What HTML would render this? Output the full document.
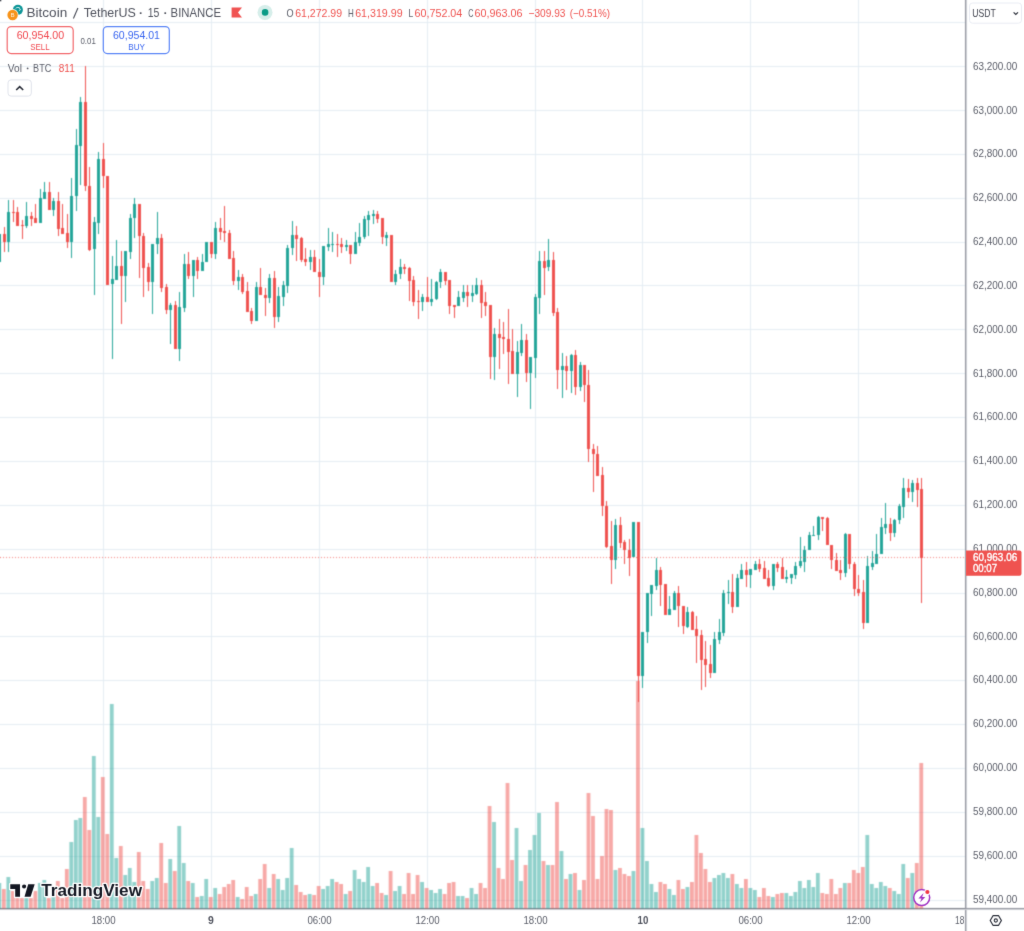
<!DOCTYPE html>
<html><head><meta charset="utf-8"><title>BTCUSDT chart</title>
<style>
html,body{margin:0;padding:0;background:#fff}
body{width:1024px;height:931px;position:relative;overflow:hidden;font-family:"Liberation Sans",sans-serif}
</style></head><body>
<svg width="1024" height="931" viewBox="0 0 1024 931" font-family="Liberation Sans, sans-serif" style="position:absolute;left:0;top:0">
<defs><filter id="soft" x="0" y="0" width="100%" height="100%" filterUnits="userSpaceOnUse" primitiveUnits="userSpaceOnUse" color-interpolation-filters="sRGB"><feConvolveMatrix order="3" kernelMatrix="0.03 0.12 0.03 0.12 0.4 0.12 0.03 0.12 0.03" divisor="1" edgeMode="duplicate" preserveAlpha="true"/></filter></defs>
<defs><filter id="soft2" x="0" y="0" width="100%" height="100%" filterUnits="userSpaceOnUse" primitiveUnits="userSpaceOnUse" color-interpolation-filters="sRGB"><feConvolveMatrix order="3" kernelMatrix="0.01 0.07 0.01 0.07 0.68 0.07 0.01 0.07 0.01" divisor="1" edgeMode="none" preserveAlpha="false"/></filter></defs>
<g filter="url(#soft)">
<rect x="0" y="0" width="1024" height="931" fill="#fff"/>
<g shape-rendering="crispEdges" fill="#e4edf3">
<rect x="0" y="22" width="965" height="1"/>
<rect x="0" y="66" width="965" height="1"/>
<rect x="0" y="110" width="965" height="1"/>
<rect x="0" y="154" width="965" height="1"/>
<rect x="0" y="198" width="965" height="1"/>
<rect x="0" y="242" width="965" height="1"/>
<rect x="0" y="285" width="965" height="1"/>
<rect x="0" y="329" width="965" height="1"/>
<rect x="0" y="373" width="965" height="1"/>
<rect x="0" y="417" width="965" height="1"/>
<rect x="0" y="461" width="965" height="1"/>
<rect x="0" y="505" width="965" height="1"/>
<rect x="0" y="549" width="965" height="1"/>
<rect x="0" y="593" width="965" height="1"/>
<rect x="0" y="636" width="965" height="1"/>
<rect x="0" y="680" width="965" height="1"/>
<rect x="0" y="724" width="965" height="1"/>
<rect x="0" y="768" width="965" height="1"/>
<rect x="0" y="812" width="965" height="1"/>
<rect x="0" y="856" width="965" height="1"/>
<rect x="0" y="900" width="965" height="1"/>
<rect x="103" y="0" width="1" height="908"/>
<rect x="211" y="0" width="1" height="908"/>
<rect x="319" y="0" width="1" height="908"/>
<rect x="427" y="0" width="1" height="908"/>
<rect x="535" y="0" width="1" height="908"/>
<rect x="642" y="0" width="1" height="908"/>
<rect x="750" y="0" width="1" height="908"/>
<rect x="858" y="0" width="1" height="908"/>
<rect x="966" y="0" width="1" height="908"/>
</g>
<rect x="965" y="0" width="1" height="931" fill="#8f929c"/><rect x="966" y="0" width="1" height="931" fill="#cfd1d6"/>
<rect x="0" y="908" width="1024" height="1" fill="#8f929c"/><rect x="0" y="909" width="1024" height="1" fill="#cfd1d6"/>
<g>
<rect x="-2.56" y="883" width="3.8" height="26" fill="rgba(38,166,154,0.5)"/>
<rect x="1.94" y="889" width="3.8" height="20" fill="rgba(239,83,80,0.5)"/>
<rect x="6.44" y="877" width="3.8" height="32" fill="rgba(38,166,154,0.5)"/>
<rect x="10.94" y="891" width="3.8" height="18" fill="rgba(239,83,80,0.5)"/>
<rect x="15.43" y="898" width="3.8" height="11" fill="rgba(239,83,80,0.5)"/>
<rect x="19.93" y="898" width="3.8" height="11" fill="rgba(239,83,80,0.5)"/>
<rect x="24.43" y="898" width="3.8" height="11" fill="rgba(38,166,154,0.5)"/>
<rect x="28.92" y="898" width="3.8" height="11" fill="rgba(239,83,80,0.5)"/>
<rect x="33.42" y="891" width="3.8" height="18" fill="rgba(239,83,80,0.5)"/>
<rect x="37.92" y="883" width="3.8" height="26" fill="rgba(38,166,154,0.5)"/>
<rect x="42.42" y="880" width="3.8" height="29" fill="rgba(38,166,154,0.5)"/>
<rect x="46.91" y="898" width="3.8" height="11" fill="rgba(239,83,80,0.5)"/>
<rect x="51.41" y="896" width="3.8" height="13" fill="rgba(38,166,154,0.5)"/>
<rect x="55.91" y="881" width="3.8" height="28" fill="rgba(239,83,80,0.5)"/>
<rect x="60.41" y="898" width="3.8" height="11" fill="rgba(239,83,80,0.5)"/>
<rect x="64.90" y="869" width="3.8" height="40" fill="rgba(239,83,80,0.5)"/>
<rect x="69.40" y="842" width="3.8" height="67" fill="rgba(38,166,154,0.5)"/>
<rect x="73.90" y="820" width="3.8" height="89" fill="rgba(38,166,154,0.5)"/>
<rect x="78.39" y="818" width="3.8" height="91" fill="rgba(38,166,154,0.5)"/>
<rect x="82.89" y="797" width="3.8" height="112" fill="rgba(239,83,80,0.5)"/>
<rect x="87.39" y="830" width="3.8" height="79" fill="rgba(239,83,80,0.5)"/>
<rect x="91.89" y="756" width="3.8" height="153" fill="rgba(38,166,154,0.5)"/>
<rect x="96.38" y="817" width="3.8" height="92" fill="rgba(38,166,154,0.5)"/>
<rect x="100.88" y="777" width="3.8" height="132" fill="rgba(239,83,80,0.5)"/>
<rect x="105.38" y="834" width="3.8" height="75" fill="rgba(239,83,80,0.5)"/>
<rect x="109.87" y="704" width="3.8" height="205" fill="rgba(38,166,154,0.5)"/>
<rect x="114.37" y="858" width="3.8" height="51" fill="rgba(38,166,154,0.5)"/>
<rect x="118.87" y="846" width="3.8" height="63" fill="rgba(239,83,80,0.5)"/>
<rect x="123.37" y="875" width="3.8" height="34" fill="rgba(38,166,154,0.5)"/>
<rect x="127.86" y="868" width="3.8" height="41" fill="rgba(38,166,154,0.5)"/>
<rect x="132.36" y="882" width="3.8" height="27" fill="rgba(38,166,154,0.5)"/>
<rect x="136.86" y="852" width="3.8" height="57" fill="rgba(239,83,80,0.5)"/>
<rect x="141.35" y="881" width="3.8" height="28" fill="rgba(239,83,80,0.5)"/>
<rect x="145.85" y="889" width="3.8" height="20" fill="rgba(239,83,80,0.5)"/>
<rect x="150.35" y="881" width="3.8" height="28" fill="rgba(38,166,154,0.5)"/>
<rect x="154.85" y="878" width="3.8" height="31" fill="rgba(38,166,154,0.5)"/>
<rect x="159.34" y="843" width="3.8" height="66" fill="rgba(239,83,80,0.5)"/>
<rect x="163.84" y="883" width="3.8" height="26" fill="rgba(239,83,80,0.5)"/>
<rect x="168.34" y="859" width="3.8" height="50" fill="rgba(38,166,154,0.5)"/>
<rect x="172.84" y="871" width="3.8" height="38" fill="rgba(239,83,80,0.5)"/>
<rect x="177.33" y="826" width="3.8" height="83" fill="rgba(38,166,154,0.5)"/>
<rect x="181.83" y="863" width="3.8" height="46" fill="rgba(38,166,154,0.5)"/>
<rect x="186.33" y="881" width="3.8" height="28" fill="rgba(239,83,80,0.5)"/>
<rect x="190.82" y="883" width="3.8" height="26" fill="rgba(38,166,154,0.5)"/>
<rect x="195.32" y="897" width="3.8" height="12" fill="rgba(239,83,80,0.5)"/>
<rect x="199.82" y="896" width="3.8" height="13" fill="rgba(38,166,154,0.5)"/>
<rect x="204.32" y="879" width="3.8" height="30" fill="rgba(38,166,154,0.5)"/>
<rect x="208.81" y="897" width="3.8" height="12" fill="rgba(239,83,80,0.5)"/>
<rect x="213.31" y="888" width="3.8" height="21" fill="rgba(38,166,154,0.5)"/>
<rect x="217.81" y="894" width="3.8" height="15" fill="rgba(239,83,80,0.5)"/>
<rect x="222.30" y="887" width="3.8" height="22" fill="rgba(239,83,80,0.5)"/>
<rect x="226.80" y="884" width="3.8" height="25" fill="rgba(239,83,80,0.5)"/>
<rect x="231.30" y="880" width="3.8" height="29" fill="rgba(239,83,80,0.5)"/>
<rect x="235.80" y="897" width="3.8" height="12" fill="rgba(38,166,154,0.5)"/>
<rect x="240.29" y="899" width="3.8" height="10" fill="rgba(239,83,80,0.5)"/>
<rect x="244.79" y="887" width="3.8" height="22" fill="rgba(239,83,80,0.5)"/>
<rect x="249.29" y="896" width="3.8" height="13" fill="rgba(239,83,80,0.5)"/>
<rect x="253.78" y="894" width="3.8" height="15" fill="rgba(38,166,154,0.5)"/>
<rect x="258.28" y="879" width="3.8" height="30" fill="rgba(239,83,80,0.5)"/>
<rect x="262.78" y="864" width="3.8" height="45" fill="rgba(239,83,80,0.5)"/>
<rect x="267.28" y="888" width="3.8" height="21" fill="rgba(38,166,154,0.5)"/>
<rect x="271.77" y="874" width="3.8" height="35" fill="rgba(239,83,80,0.5)"/>
<rect x="276.27" y="879" width="3.8" height="30" fill="rgba(38,166,154,0.5)"/>
<rect x="280.77" y="890" width="3.8" height="19" fill="rgba(38,166,154,0.5)"/>
<rect x="285.27" y="878" width="3.8" height="31" fill="rgba(38,166,154,0.5)"/>
<rect x="289.76" y="848" width="3.8" height="61" fill="rgba(38,166,154,0.5)"/>
<rect x="294.26" y="885" width="3.8" height="24" fill="rgba(239,83,80,0.5)"/>
<rect x="298.76" y="892" width="3.8" height="17" fill="rgba(239,83,80,0.5)"/>
<rect x="303.25" y="895" width="3.8" height="14" fill="rgba(239,83,80,0.5)"/>
<rect x="307.75" y="894" width="3.8" height="15" fill="rgba(38,166,154,0.5)"/>
<rect x="312.25" y="895" width="3.8" height="14" fill="rgba(239,83,80,0.5)"/>
<rect x="316.75" y="886" width="3.8" height="23" fill="rgba(239,83,80,0.5)"/>
<rect x="321.24" y="889" width="3.8" height="20" fill="rgba(38,166,154,0.5)"/>
<rect x="325.74" y="886" width="3.8" height="23" fill="rgba(38,166,154,0.5)"/>
<rect x="330.24" y="879" width="3.8" height="30" fill="rgba(38,166,154,0.5)"/>
<rect x="334.73" y="882" width="3.8" height="27" fill="rgba(239,83,80,0.5)"/>
<rect x="339.23" y="884" width="3.8" height="25" fill="rgba(239,83,80,0.5)"/>
<rect x="343.73" y="894" width="3.8" height="15" fill="rgba(38,166,154,0.5)"/>
<rect x="348.23" y="891" width="3.8" height="18" fill="rgba(239,83,80,0.5)"/>
<rect x="352.72" y="870" width="3.8" height="39" fill="rgba(38,166,154,0.5)"/>
<rect x="357.22" y="879" width="3.8" height="30" fill="rgba(38,166,154,0.5)"/>
<rect x="361.72" y="882" width="3.8" height="27" fill="rgba(38,166,154,0.5)"/>
<rect x="366.21" y="867" width="3.8" height="42" fill="rgba(38,166,154,0.5)"/>
<rect x="370.71" y="886" width="3.8" height="23" fill="rgba(38,166,154,0.5)"/>
<rect x="375.21" y="883" width="3.8" height="26" fill="rgba(239,83,80,0.5)"/>
<rect x="379.71" y="893" width="3.8" height="16" fill="rgba(239,83,80,0.5)"/>
<rect x="384.20" y="895" width="3.8" height="14" fill="rgba(38,166,154,0.5)"/>
<rect x="388.70" y="871" width="3.8" height="38" fill="rgba(239,83,80,0.5)"/>
<rect x="393.20" y="891" width="3.8" height="18" fill="rgba(38,166,154,0.5)"/>
<rect x="397.70" y="886" width="3.8" height="23" fill="rgba(38,166,154,0.5)"/>
<rect x="402.19" y="894" width="3.8" height="15" fill="rgba(239,83,80,0.5)"/>
<rect x="406.69" y="873" width="3.8" height="36" fill="rgba(239,83,80,0.5)"/>
<rect x="411.19" y="894" width="3.8" height="15" fill="rgba(239,83,80,0.5)"/>
<rect x="415.68" y="875" width="3.8" height="34" fill="rgba(239,83,80,0.5)"/>
<rect x="420.18" y="882" width="3.8" height="27" fill="rgba(38,166,154,0.5)"/>
<rect x="424.68" y="888" width="3.8" height="21" fill="rgba(239,83,80,0.5)"/>
<rect x="429.18" y="890" width="3.8" height="19" fill="rgba(38,166,154,0.5)"/>
<rect x="433.67" y="893" width="3.8" height="16" fill="rgba(38,166,154,0.5)"/>
<rect x="438.17" y="889" width="3.8" height="20" fill="rgba(38,166,154,0.5)"/>
<rect x="442.67" y="894" width="3.8" height="15" fill="rgba(239,83,80,0.5)"/>
<rect x="447.16" y="883" width="3.8" height="26" fill="rgba(239,83,80,0.5)"/>
<rect x="451.66" y="882" width="3.8" height="27" fill="rgba(239,83,80,0.5)"/>
<rect x="456.16" y="896" width="3.8" height="13" fill="rgba(38,166,154,0.5)"/>
<rect x="460.66" y="896" width="3.8" height="13" fill="rgba(38,166,154,0.5)"/>
<rect x="465.15" y="898" width="3.8" height="11" fill="rgba(239,83,80,0.5)"/>
<rect x="469.65" y="888" width="3.8" height="21" fill="rgba(38,166,154,0.5)"/>
<rect x="474.15" y="894" width="3.8" height="15" fill="rgba(38,166,154,0.5)"/>
<rect x="478.64" y="883" width="3.8" height="26" fill="rgba(239,83,80,0.5)"/>
<rect x="483.14" y="888" width="3.8" height="21" fill="rgba(239,83,80,0.5)"/>
<rect x="487.64" y="806" width="3.8" height="103" fill="rgba(239,83,80,0.5)"/>
<rect x="492.14" y="822" width="3.8" height="87" fill="rgba(38,166,154,0.5)"/>
<rect x="496.63" y="868" width="3.8" height="41" fill="rgba(239,83,80,0.5)"/>
<rect x="501.13" y="879" width="3.8" height="30" fill="rgba(239,83,80,0.5)"/>
<rect x="505.63" y="783" width="3.8" height="126" fill="rgba(239,83,80,0.5)"/>
<rect x="510.13" y="860" width="3.8" height="49" fill="rgba(239,83,80,0.5)"/>
<rect x="514.62" y="828" width="3.8" height="81" fill="rgba(38,166,154,0.5)"/>
<rect x="519.12" y="881" width="3.8" height="28" fill="rgba(38,166,154,0.5)"/>
<rect x="523.62" y="865" width="3.8" height="44" fill="rgba(239,83,80,0.5)"/>
<rect x="528.11" y="850" width="3.8" height="59" fill="rgba(38,166,154,0.5)"/>
<rect x="532.61" y="835" width="3.8" height="74" fill="rgba(38,166,154,0.5)"/>
<rect x="537.11" y="813" width="3.8" height="96" fill="rgba(38,166,154,0.5)"/>
<rect x="541.61" y="861" width="3.8" height="48" fill="rgba(239,83,80,0.5)"/>
<rect x="546.10" y="865" width="3.8" height="44" fill="rgba(38,166,154,0.5)"/>
<rect x="550.60" y="865" width="3.8" height="44" fill="rgba(239,83,80,0.5)"/>
<rect x="555.10" y="802" width="3.8" height="107" fill="rgba(239,83,80,0.5)"/>
<rect x="559.59" y="851" width="3.8" height="58" fill="rgba(38,166,154,0.5)"/>
<rect x="564.09" y="879" width="3.8" height="30" fill="rgba(239,83,80,0.5)"/>
<rect x="568.59" y="874" width="3.8" height="35" fill="rgba(38,166,154,0.5)"/>
<rect x="573.09" y="873" width="3.8" height="36" fill="rgba(239,83,80,0.5)"/>
<rect x="577.58" y="890" width="3.8" height="19" fill="rgba(38,166,154,0.5)"/>
<rect x="582.08" y="880" width="3.8" height="29" fill="rgba(239,83,80,0.5)"/>
<rect x="586.58" y="793" width="3.8" height="116" fill="rgba(239,83,80,0.5)"/>
<rect x="591.07" y="816" width="3.8" height="93" fill="rgba(239,83,80,0.5)"/>
<rect x="595.57" y="879" width="3.8" height="30" fill="rgba(239,83,80,0.5)"/>
<rect x="600.07" y="856" width="3.8" height="53" fill="rgba(239,83,80,0.5)"/>
<rect x="604.57" y="809" width="3.8" height="100" fill="rgba(239,83,80,0.5)"/>
<rect x="609.06" y="810" width="3.8" height="99" fill="rgba(239,83,80,0.5)"/>
<rect x="613.56" y="870" width="3.8" height="39" fill="rgba(38,166,154,0.5)"/>
<rect x="618.06" y="868" width="3.8" height="41" fill="rgba(239,83,80,0.5)"/>
<rect x="622.56" y="874" width="3.8" height="35" fill="rgba(239,83,80,0.5)"/>
<rect x="627.05" y="876" width="3.8" height="33" fill="rgba(239,83,80,0.5)"/>
<rect x="631.55" y="871" width="3.8" height="38" fill="rgba(38,166,154,0.5)"/>
<rect x="636.05" y="681" width="3.8" height="228" fill="rgba(239,83,80,0.5)"/>
<rect x="640.54" y="828" width="3.8" height="81" fill="rgba(38,166,154,0.5)"/>
<rect x="645.04" y="861" width="3.8" height="48" fill="rgba(38,166,154,0.5)"/>
<rect x="649.54" y="884" width="3.8" height="25" fill="rgba(38,166,154,0.5)"/>
<rect x="654.04" y="892" width="3.8" height="17" fill="rgba(38,166,154,0.5)"/>
<rect x="658.53" y="882" width="3.8" height="27" fill="rgba(239,83,80,0.5)"/>
<rect x="663.03" y="884" width="3.8" height="25" fill="rgba(239,83,80,0.5)"/>
<rect x="667.53" y="889" width="3.8" height="20" fill="rgba(38,166,154,0.5)"/>
<rect x="672.02" y="895" width="3.8" height="14" fill="rgba(38,166,154,0.5)"/>
<rect x="676.52" y="880" width="3.8" height="29" fill="rgba(239,83,80,0.5)"/>
<rect x="681.02" y="889" width="3.8" height="20" fill="rgba(239,83,80,0.5)"/>
<rect x="685.52" y="887" width="3.8" height="22" fill="rgba(38,166,154,0.5)"/>
<rect x="690.01" y="882" width="3.8" height="27" fill="rgba(239,83,80,0.5)"/>
<rect x="694.51" y="835" width="3.8" height="74" fill="rgba(239,83,80,0.5)"/>
<rect x="699.01" y="853" width="3.8" height="56" fill="rgba(239,83,80,0.5)"/>
<rect x="703.50" y="869" width="3.8" height="40" fill="rgba(239,83,80,0.5)"/>
<rect x="708.00" y="882" width="3.8" height="27" fill="rgba(239,83,80,0.5)"/>
<rect x="712.50" y="878" width="3.8" height="31" fill="rgba(38,166,154,0.5)"/>
<rect x="717.00" y="875" width="3.8" height="34" fill="rgba(38,166,154,0.5)"/>
<rect x="721.49" y="873" width="3.8" height="36" fill="rgba(38,166,154,0.5)"/>
<rect x="725.99" y="878" width="3.8" height="31" fill="rgba(38,166,154,0.5)"/>
<rect x="730.49" y="874" width="3.8" height="35" fill="rgba(239,83,80,0.5)"/>
<rect x="734.99" y="884" width="3.8" height="25" fill="rgba(38,166,154,0.5)"/>
<rect x="739.48" y="888" width="3.8" height="21" fill="rgba(38,166,154,0.5)"/>
<rect x="743.98" y="879" width="3.8" height="30" fill="rgba(239,83,80,0.5)"/>
<rect x="748.48" y="888" width="3.8" height="21" fill="rgba(38,166,154,0.5)"/>
<rect x="752.97" y="890" width="3.8" height="19" fill="rgba(38,166,154,0.5)"/>
<rect x="757.47" y="897" width="3.8" height="12" fill="rgba(239,83,80,0.5)"/>
<rect x="761.97" y="888" width="3.8" height="21" fill="rgba(239,83,80,0.5)"/>
<rect x="766.47" y="896" width="3.8" height="13" fill="rgba(239,83,80,0.5)"/>
<rect x="770.96" y="897" width="3.8" height="12" fill="rgba(38,166,154,0.5)"/>
<rect x="775.46" y="894" width="3.8" height="15" fill="rgba(239,83,80,0.5)"/>
<rect x="779.96" y="893" width="3.8" height="16" fill="rgba(239,83,80,0.5)"/>
<rect x="784.45" y="893" width="3.8" height="16" fill="rgba(38,166,154,0.5)"/>
<rect x="788.95" y="896" width="3.8" height="13" fill="rgba(38,166,154,0.5)"/>
<rect x="793.45" y="892" width="3.8" height="17" fill="rgba(38,166,154,0.5)"/>
<rect x="797.95" y="881" width="3.8" height="28" fill="rgba(38,166,154,0.5)"/>
<rect x="802.44" y="888" width="3.8" height="21" fill="rgba(38,166,154,0.5)"/>
<rect x="806.94" y="880" width="3.8" height="29" fill="rgba(38,166,154,0.5)"/>
<rect x="811.44" y="887" width="3.8" height="22" fill="rgba(38,166,154,0.5)"/>
<rect x="815.93" y="873" width="3.8" height="36" fill="rgba(38,166,154,0.5)"/>
<rect x="820.43" y="893" width="3.8" height="16" fill="rgba(239,83,80,0.5)"/>
<rect x="824.93" y="894" width="3.8" height="15" fill="rgba(239,83,80,0.5)"/>
<rect x="829.43" y="879" width="3.8" height="30" fill="rgba(239,83,80,0.5)"/>
<rect x="833.92" y="894" width="3.8" height="15" fill="rgba(239,83,80,0.5)"/>
<rect x="838.42" y="888" width="3.8" height="21" fill="rgba(239,83,80,0.5)"/>
<rect x="842.92" y="883" width="3.8" height="26" fill="rgba(38,166,154,0.5)"/>
<rect x="847.42" y="883" width="3.8" height="26" fill="rgba(239,83,80,0.5)"/>
<rect x="851.91" y="870" width="3.8" height="39" fill="rgba(239,83,80,0.5)"/>
<rect x="856.41" y="873" width="3.8" height="36" fill="rgba(239,83,80,0.5)"/>
<rect x="860.91" y="867" width="3.8" height="42" fill="rgba(239,83,80,0.5)"/>
<rect x="865.40" y="835" width="3.8" height="74" fill="rgba(38,166,154,0.5)"/>
<rect x="869.90" y="884" width="3.8" height="25" fill="rgba(38,166,154,0.5)"/>
<rect x="874.40" y="888" width="3.8" height="21" fill="rgba(38,166,154,0.5)"/>
<rect x="878.90" y="882" width="3.8" height="27" fill="rgba(38,166,154,0.5)"/>
<rect x="883.39" y="886" width="3.8" height="23" fill="rgba(38,166,154,0.5)"/>
<rect x="887.89" y="888" width="3.8" height="21" fill="rgba(239,83,80,0.5)"/>
<rect x="892.39" y="891" width="3.8" height="18" fill="rgba(38,166,154,0.5)"/>
<rect x="896.88" y="894" width="3.8" height="15" fill="rgba(38,166,154,0.5)"/>
<rect x="901.38" y="864" width="3.8" height="45" fill="rgba(38,166,154,0.5)"/>
<rect x="905.88" y="878" width="3.8" height="31" fill="rgba(239,83,80,0.5)"/>
<rect x="910.38" y="873" width="3.8" height="36" fill="rgba(38,166,154,0.5)"/>
<rect x="914.87" y="863" width="3.8" height="46" fill="rgba(239,83,80,0.5)"/>
<rect x="919.37" y="763" width="3.8" height="146" fill="rgba(239,83,80,0.5)"/>
</g>
<rect x="0" y="908" width="965" height="1" fill="#6d707a" opacity="0.55"/>
<g shape-rendering="crispEdges">
<rect x="-1" y="234" width="1" height="28" fill="#26a69a"/>
<rect x="-2" y="234" width="3" height="28" fill="#26a69a"/>
<rect x="4" y="227" width="1" height="25" fill="#ef5350"/>
<rect x="3" y="234" width="3" height="8" fill="#ef5350"/>
<rect x="8" y="200" width="1" height="52" fill="#26a69a"/>
<rect x="7" y="212" width="3" height="30" fill="#26a69a"/>
<rect x="13" y="200" width="1" height="22" fill="#ef5350"/>
<rect x="12" y="212" width="3" height="1" fill="#ef5350"/>
<rect x="17" y="207" width="1" height="19" fill="#ef5350"/>
<rect x="16" y="212" width="3" height="14" fill="#ef5350"/>
<rect x="22" y="220" width="1" height="19" fill="#ef5350"/>
<rect x="21" y="225" width="3" height="1" fill="#ef5350"/>
<rect x="26" y="202" width="1" height="26" fill="#26a69a"/>
<rect x="25" y="216" width="3" height="10" fill="#26a69a"/>
<rect x="31" y="212" width="1" height="14" fill="#ef5350"/>
<rect x="30" y="216" width="3" height="3" fill="#ef5350"/>
<rect x="35" y="204" width="1" height="19" fill="#ef5350"/>
<rect x="34" y="218" width="3" height="5" fill="#ef5350"/>
<rect x="40" y="189" width="1" height="34" fill="#26a69a"/>
<rect x="39" y="198" width="3" height="25" fill="#26a69a"/>
<rect x="44" y="182" width="1" height="17" fill="#26a69a"/>
<rect x="43" y="192" width="3" height="7" fill="#26a69a"/>
<rect x="49" y="182" width="1" height="28" fill="#ef5350"/>
<rect x="48" y="192" width="3" height="18" fill="#ef5350"/>
<rect x="53" y="198" width="1" height="18" fill="#26a69a"/>
<rect x="52" y="201" width="3" height="9" fill="#26a69a"/>
<rect x="58" y="192" width="1" height="44" fill="#ef5350"/>
<rect x="57" y="201" width="3" height="28" fill="#ef5350"/>
<rect x="62" y="204" width="1" height="30" fill="#ef5350"/>
<rect x="61" y="228" width="3" height="6" fill="#ef5350"/>
<rect x="67" y="214" width="1" height="34" fill="#ef5350"/>
<rect x="66" y="233" width="3" height="9" fill="#ef5350"/>
<rect x="71" y="178" width="1" height="80" fill="#26a69a"/>
<rect x="70" y="196" width="3" height="46" fill="#26a69a"/>
<rect x="76" y="129" width="1" height="82" fill="#26a69a"/>
<rect x="75" y="145" width="3" height="51" fill="#26a69a"/>
<rect x="80" y="97" width="1" height="88" fill="#26a69a"/>
<rect x="79" y="102" width="3" height="44" fill="#26a69a"/>
<rect x="85" y="66" width="1" height="125" fill="#ef5350"/>
<rect x="84" y="102" width="3" height="84" fill="#ef5350"/>
<rect x="89" y="167" width="1" height="84" fill="#ef5350"/>
<rect x="88" y="186" width="3" height="64" fill="#ef5350"/>
<rect x="94" y="217" width="1" height="78" fill="#26a69a"/>
<rect x="93" y="222" width="3" height="27" fill="#26a69a"/>
<rect x="98" y="152" width="1" height="82" fill="#26a69a"/>
<rect x="97" y="159" width="3" height="64" fill="#26a69a"/>
<rect x="103" y="143" width="1" height="45" fill="#ef5350"/>
<rect x="102" y="159" width="3" height="17" fill="#ef5350"/>
<rect x="107" y="176" width="1" height="109" fill="#ef5350"/>
<rect x="106" y="176" width="3" height="109" fill="#ef5350"/>
<rect x="112" y="256" width="1" height="103" fill="#26a69a"/>
<rect x="111" y="279" width="3" height="5" fill="#26a69a"/>
<rect x="116" y="240" width="1" height="40" fill="#26a69a"/>
<rect x="115" y="266" width="3" height="14" fill="#26a69a"/>
<rect x="121" y="251" width="1" height="73" fill="#ef5350"/>
<rect x="120" y="266" width="3" height="10" fill="#ef5350"/>
<rect x="125" y="251" width="1" height="51" fill="#26a69a"/>
<rect x="124" y="251" width="3" height="25" fill="#26a69a"/>
<rect x="130" y="214" width="1" height="45" fill="#26a69a"/>
<rect x="129" y="218" width="3" height="34" fill="#26a69a"/>
<rect x="134" y="198" width="1" height="40" fill="#26a69a"/>
<rect x="133" y="204" width="3" height="14" fill="#26a69a"/>
<rect x="139" y="204" width="1" height="74" fill="#ef5350"/>
<rect x="138" y="204" width="3" height="32" fill="#ef5350"/>
<rect x="143" y="233" width="1" height="64" fill="#ef5350"/>
<rect x="142" y="236" width="3" height="32" fill="#ef5350"/>
<rect x="148" y="263" width="1" height="28" fill="#ef5350"/>
<rect x="147" y="267" width="3" height="15" fill="#ef5350"/>
<rect x="152" y="244" width="1" height="70" fill="#26a69a"/>
<rect x="151" y="244" width="3" height="38" fill="#26a69a"/>
<rect x="157" y="212" width="1" height="42" fill="#26a69a"/>
<rect x="156" y="238" width="3" height="6" fill="#26a69a"/>
<rect x="161" y="234" width="1" height="58" fill="#ef5350"/>
<rect x="160" y="238" width="3" height="50" fill="#ef5350"/>
<rect x="166" y="284" width="1" height="30" fill="#ef5350"/>
<rect x="165" y="287" width="3" height="23" fill="#ef5350"/>
<rect x="170" y="303" width="1" height="41" fill="#26a69a"/>
<rect x="169" y="305" width="3" height="5" fill="#26a69a"/>
<rect x="175" y="301" width="1" height="48" fill="#ef5350"/>
<rect x="174" y="305" width="3" height="44" fill="#ef5350"/>
<rect x="179" y="292" width="1" height="69" fill="#26a69a"/>
<rect x="178" y="307" width="3" height="42" fill="#26a69a"/>
<rect x="184" y="254" width="1" height="58" fill="#26a69a"/>
<rect x="183" y="264" width="3" height="44" fill="#26a69a"/>
<rect x="188" y="252" width="1" height="27" fill="#ef5350"/>
<rect x="187" y="264" width="3" height="12" fill="#ef5350"/>
<rect x="193" y="260" width="1" height="37" fill="#26a69a"/>
<rect x="192" y="260" width="3" height="16" fill="#26a69a"/>
<rect x="197" y="257" width="1" height="22" fill="#ef5350"/>
<rect x="196" y="260" width="3" height="11" fill="#ef5350"/>
<rect x="202" y="254" width="1" height="17" fill="#26a69a"/>
<rect x="201" y="262" width="3" height="9" fill="#26a69a"/>
<rect x="206" y="242" width="1" height="20" fill="#26a69a"/>
<rect x="205" y="242" width="3" height="20" fill="#26a69a"/>
<rect x="211" y="242" width="1" height="16" fill="#ef5350"/>
<rect x="210" y="242" width="3" height="12" fill="#ef5350"/>
<rect x="215" y="222" width="1" height="37" fill="#26a69a"/>
<rect x="214" y="228" width="3" height="26" fill="#26a69a"/>
<rect x="220" y="218" width="1" height="22" fill="#ef5350"/>
<rect x="219" y="228" width="3" height="4" fill="#ef5350"/>
<rect x="224" y="206" width="1" height="36" fill="#ef5350"/>
<rect x="223" y="231" width="3" height="2" fill="#ef5350"/>
<rect x="229" y="230" width="1" height="29" fill="#ef5350"/>
<rect x="228" y="233" width="3" height="26" fill="#ef5350"/>
<rect x="233" y="251" width="1" height="34" fill="#ef5350"/>
<rect x="232" y="258" width="3" height="23" fill="#ef5350"/>
<rect x="238" y="270" width="1" height="20" fill="#26a69a"/>
<rect x="237" y="277" width="3" height="4" fill="#26a69a"/>
<rect x="242" y="274" width="1" height="20" fill="#ef5350"/>
<rect x="241" y="277" width="3" height="15" fill="#ef5350"/>
<rect x="247" y="282" width="1" height="30" fill="#ef5350"/>
<rect x="246" y="291" width="3" height="21" fill="#ef5350"/>
<rect x="251" y="308" width="1" height="16" fill="#ef5350"/>
<rect x="250" y="311" width="3" height="10" fill="#ef5350"/>
<rect x="256" y="282" width="1" height="39" fill="#26a69a"/>
<rect x="255" y="287" width="3" height="34" fill="#26a69a"/>
<rect x="260" y="268" width="1" height="27" fill="#ef5350"/>
<rect x="259" y="287" width="3" height="8" fill="#ef5350"/>
<rect x="265" y="288" width="1" height="28" fill="#ef5350"/>
<rect x="264" y="295" width="3" height="3" fill="#ef5350"/>
<rect x="269" y="274" width="1" height="29" fill="#26a69a"/>
<rect x="268" y="278" width="3" height="20" fill="#26a69a"/>
<rect x="274" y="271" width="1" height="57" fill="#ef5350"/>
<rect x="273" y="278" width="3" height="39" fill="#ef5350"/>
<rect x="278" y="287" width="1" height="35" fill="#26a69a"/>
<rect x="277" y="296" width="3" height="21" fill="#26a69a"/>
<rect x="283" y="281" width="1" height="25" fill="#26a69a"/>
<rect x="282" y="285" width="3" height="12" fill="#26a69a"/>
<rect x="287" y="245" width="1" height="48" fill="#26a69a"/>
<rect x="286" y="248" width="3" height="38" fill="#26a69a"/>
<rect x="292" y="221" width="1" height="34" fill="#26a69a"/>
<rect x="291" y="235" width="3" height="13" fill="#26a69a"/>
<rect x="296" y="226" width="1" height="35" fill="#ef5350"/>
<rect x="295" y="235" width="3" height="4" fill="#ef5350"/>
<rect x="301" y="237" width="1" height="25" fill="#ef5350"/>
<rect x="300" y="238" width="3" height="22" fill="#ef5350"/>
<rect x="305" y="248" width="1" height="18" fill="#ef5350"/>
<rect x="304" y="259" width="3" height="3" fill="#ef5350"/>
<rect x="310" y="250" width="1" height="20" fill="#26a69a"/>
<rect x="309" y="257" width="3" height="5" fill="#26a69a"/>
<rect x="314" y="250" width="1" height="22" fill="#ef5350"/>
<rect x="313" y="257" width="3" height="15" fill="#ef5350"/>
<rect x="319" y="259" width="1" height="38" fill="#ef5350"/>
<rect x="318" y="272" width="3" height="5" fill="#ef5350"/>
<rect x="323" y="246" width="1" height="39" fill="#26a69a"/>
<rect x="322" y="246" width="3" height="31" fill="#26a69a"/>
<rect x="328" y="228" width="1" height="23" fill="#26a69a"/>
<rect x="327" y="244" width="3" height="3" fill="#26a69a"/>
<rect x="332" y="232" width="1" height="20" fill="#26a69a"/>
<rect x="331" y="244" width="3" height="1" fill="#26a69a"/>
<rect x="337" y="234" width="1" height="23" fill="#ef5350"/>
<rect x="336" y="244" width="3" height="1" fill="#ef5350"/>
<rect x="341" y="238" width="1" height="15" fill="#ef5350"/>
<rect x="340" y="244" width="3" height="3" fill="#ef5350"/>
<rect x="346" y="240" width="1" height="11" fill="#26a69a"/>
<rect x="345" y="245" width="3" height="2" fill="#26a69a"/>
<rect x="350" y="245" width="1" height="19" fill="#ef5350"/>
<rect x="349" y="245" width="3" height="9" fill="#ef5350"/>
<rect x="355" y="232" width="1" height="22" fill="#26a69a"/>
<rect x="354" y="242" width="3" height="12" fill="#26a69a"/>
<rect x="359" y="223" width="1" height="23" fill="#26a69a"/>
<rect x="358" y="237" width="3" height="6" fill="#26a69a"/>
<rect x="364" y="216" width="1" height="23" fill="#26a69a"/>
<rect x="363" y="219" width="3" height="18" fill="#26a69a"/>
<rect x="368" y="211" width="1" height="25" fill="#26a69a"/>
<rect x="367" y="215" width="3" height="5" fill="#26a69a"/>
<rect x="373" y="210" width="1" height="14" fill="#26a69a"/>
<rect x="372" y="214" width="3" height="2" fill="#26a69a"/>
<rect x="377" y="211" width="1" height="12" fill="#ef5350"/>
<rect x="376" y="214" width="3" height="5" fill="#ef5350"/>
<rect x="382" y="218" width="1" height="26" fill="#ef5350"/>
<rect x="381" y="218" width="3" height="19" fill="#ef5350"/>
<rect x="386" y="232" width="1" height="14" fill="#26a69a"/>
<rect x="385" y="235" width="3" height="3" fill="#26a69a"/>
<rect x="391" y="235" width="1" height="47" fill="#ef5350"/>
<rect x="390" y="235" width="3" height="47" fill="#ef5350"/>
<rect x="395" y="270" width="1" height="15" fill="#26a69a"/>
<rect x="394" y="274" width="3" height="8" fill="#26a69a"/>
<rect x="400" y="259" width="1" height="20" fill="#26a69a"/>
<rect x="399" y="267" width="3" height="7" fill="#26a69a"/>
<rect x="404" y="264" width="1" height="10" fill="#ef5350"/>
<rect x="403" y="267" width="3" height="2" fill="#ef5350"/>
<rect x="409" y="267" width="1" height="34" fill="#ef5350"/>
<rect x="408" y="268" width="3" height="13" fill="#ef5350"/>
<rect x="413" y="276" width="1" height="30" fill="#ef5350"/>
<rect x="412" y="280" width="3" height="22" fill="#ef5350"/>
<rect x="418" y="290" width="1" height="29" fill="#ef5350"/>
<rect x="417" y="301" width="3" height="1" fill="#ef5350"/>
<rect x="422" y="294" width="1" height="17" fill="#26a69a"/>
<rect x="421" y="297" width="3" height="5" fill="#26a69a"/>
<rect x="427" y="277" width="1" height="25" fill="#ef5350"/>
<rect x="426" y="297" width="3" height="5" fill="#ef5350"/>
<rect x="431" y="279" width="1" height="27" fill="#26a69a"/>
<rect x="430" y="299" width="3" height="3" fill="#26a69a"/>
<rect x="436" y="281" width="1" height="19" fill="#26a69a"/>
<rect x="435" y="282" width="3" height="17" fill="#26a69a"/>
<rect x="440" y="269" width="1" height="19" fill="#26a69a"/>
<rect x="439" y="272" width="3" height="10" fill="#26a69a"/>
<rect x="445" y="272" width="1" height="13" fill="#ef5350"/>
<rect x="444" y="272" width="3" height="9" fill="#ef5350"/>
<rect x="449" y="280" width="1" height="34" fill="#ef5350"/>
<rect x="448" y="280" width="3" height="26" fill="#ef5350"/>
<rect x="454" y="305" width="1" height="13" fill="#ef5350"/>
<rect x="453" y="305" width="3" height="2" fill="#ef5350"/>
<rect x="458" y="291" width="1" height="15" fill="#26a69a"/>
<rect x="457" y="297" width="3" height="9" fill="#26a69a"/>
<rect x="463" y="285" width="1" height="17" fill="#26a69a"/>
<rect x="462" y="292" width="3" height="6" fill="#26a69a"/>
<rect x="467" y="285" width="1" height="22" fill="#ef5350"/>
<rect x="466" y="292" width="3" height="4" fill="#ef5350"/>
<rect x="472" y="285" width="1" height="17" fill="#26a69a"/>
<rect x="471" y="293" width="3" height="3" fill="#26a69a"/>
<rect x="476" y="278" width="1" height="17" fill="#26a69a"/>
<rect x="475" y="285" width="3" height="9" fill="#26a69a"/>
<rect x="481" y="280" width="1" height="38" fill="#ef5350"/>
<rect x="480" y="285" width="3" height="18" fill="#ef5350"/>
<rect x="485" y="292" width="1" height="24" fill="#ef5350"/>
<rect x="484" y="302" width="3" height="4" fill="#ef5350"/>
<rect x="490" y="305" width="1" height="74" fill="#ef5350"/>
<rect x="489" y="305" width="3" height="52" fill="#ef5350"/>
<rect x="494" y="328" width="1" height="52" fill="#26a69a"/>
<rect x="493" y="334" width="3" height="23" fill="#26a69a"/>
<rect x="499" y="319" width="1" height="50" fill="#ef5350"/>
<rect x="498" y="334" width="3" height="4" fill="#ef5350"/>
<rect x="503" y="322" width="1" height="32" fill="#ef5350"/>
<rect x="502" y="337" width="3" height="2" fill="#ef5350"/>
<rect x="508" y="309" width="1" height="75" fill="#ef5350"/>
<rect x="507" y="339" width="3" height="13" fill="#ef5350"/>
<rect x="512" y="329" width="1" height="45" fill="#ef5350"/>
<rect x="511" y="351" width="3" height="23" fill="#ef5350"/>
<rect x="517" y="341" width="1" height="56" fill="#26a69a"/>
<rect x="516" y="352" width="3" height="22" fill="#26a69a"/>
<rect x="521" y="324" width="1" height="32" fill="#26a69a"/>
<rect x="520" y="340" width="3" height="13" fill="#26a69a"/>
<rect x="526" y="334" width="1" height="48" fill="#ef5350"/>
<rect x="525" y="340" width="3" height="33" fill="#ef5350"/>
<rect x="530" y="357" width="1" height="52" fill="#26a69a"/>
<rect x="529" y="357" width="3" height="16" fill="#26a69a"/>
<rect x="535" y="294" width="1" height="84" fill="#26a69a"/>
<rect x="534" y="297" width="3" height="61" fill="#26a69a"/>
<rect x="539" y="251" width="1" height="63" fill="#26a69a"/>
<rect x="538" y="261" width="3" height="37" fill="#26a69a"/>
<rect x="544" y="251" width="1" height="44" fill="#ef5350"/>
<rect x="543" y="261" width="3" height="7" fill="#ef5350"/>
<rect x="548" y="239" width="1" height="32" fill="#26a69a"/>
<rect x="547" y="260" width="3" height="7" fill="#26a69a"/>
<rect x="553" y="252" width="1" height="64" fill="#ef5350"/>
<rect x="552" y="260" width="3" height="53" fill="#ef5350"/>
<rect x="557" y="308" width="1" height="81" fill="#ef5350"/>
<rect x="556" y="312" width="3" height="58" fill="#ef5350"/>
<rect x="562" y="353" width="1" height="45" fill="#26a69a"/>
<rect x="561" y="366" width="3" height="4" fill="#26a69a"/>
<rect x="566" y="356" width="1" height="34" fill="#ef5350"/>
<rect x="565" y="366" width="3" height="5" fill="#ef5350"/>
<rect x="571" y="354" width="1" height="39" fill="#26a69a"/>
<rect x="570" y="355" width="3" height="16" fill="#26a69a"/>
<rect x="575" y="350" width="1" height="45" fill="#ef5350"/>
<rect x="574" y="355" width="3" height="32" fill="#ef5350"/>
<rect x="580" y="362" width="1" height="29" fill="#26a69a"/>
<rect x="579" y="365" width="3" height="22" fill="#26a69a"/>
<rect x="584" y="365" width="1" height="37" fill="#ef5350"/>
<rect x="583" y="365" width="3" height="20" fill="#ef5350"/>
<rect x="588" y="370" width="1" height="92" fill="#ef5350"/>
<rect x="587" y="385" width="3" height="64" fill="#ef5350"/>
<rect x="593" y="444" width="1" height="48" fill="#ef5350"/>
<rect x="592" y="449" width="3" height="5" fill="#ef5350"/>
<rect x="597" y="446" width="1" height="30" fill="#ef5350"/>
<rect x="596" y="454" width="3" height="22" fill="#ef5350"/>
<rect x="602" y="467" width="1" height="49" fill="#ef5350"/>
<rect x="601" y="475" width="3" height="31" fill="#ef5350"/>
<rect x="606" y="501" width="1" height="47" fill="#ef5350"/>
<rect x="605" y="506" width="3" height="41" fill="#ef5350"/>
<rect x="611" y="521" width="1" height="63" fill="#ef5350"/>
<rect x="610" y="546" width="3" height="14" fill="#ef5350"/>
<rect x="615" y="519" width="1" height="50" fill="#26a69a"/>
<rect x="614" y="525" width="3" height="35" fill="#26a69a"/>
<rect x="620" y="517" width="1" height="31" fill="#ef5350"/>
<rect x="619" y="525" width="3" height="18" fill="#ef5350"/>
<rect x="624" y="540" width="1" height="24" fill="#ef5350"/>
<rect x="623" y="542" width="3" height="8" fill="#ef5350"/>
<rect x="629" y="539" width="1" height="37" fill="#ef5350"/>
<rect x="628" y="550" width="3" height="8" fill="#ef5350"/>
<rect x="633" y="522" width="1" height="35" fill="#26a69a"/>
<rect x="632" y="522" width="3" height="35" fill="#26a69a"/>
<rect x="638" y="522" width="1" height="180" fill="#ef5350"/>
<rect x="637" y="522" width="3" height="154" fill="#ef5350"/>
<rect x="642" y="632" width="1" height="56" fill="#26a69a"/>
<rect x="641" y="632" width="3" height="44" fill="#26a69a"/>
<rect x="647" y="593" width="1" height="50" fill="#26a69a"/>
<rect x="646" y="593" width="3" height="39" fill="#26a69a"/>
<rect x="651" y="585" width="1" height="31" fill="#26a69a"/>
<rect x="650" y="585" width="3" height="9" fill="#26a69a"/>
<rect x="656" y="558" width="1" height="32" fill="#26a69a"/>
<rect x="655" y="570" width="3" height="16" fill="#26a69a"/>
<rect x="660" y="567" width="1" height="39" fill="#ef5350"/>
<rect x="659" y="570" width="3" height="15" fill="#ef5350"/>
<rect x="665" y="584" width="1" height="31" fill="#ef5350"/>
<rect x="664" y="584" width="3" height="31" fill="#ef5350"/>
<rect x="669" y="596" width="1" height="19" fill="#26a69a"/>
<rect x="668" y="609" width="3" height="6" fill="#26a69a"/>
<rect x="674" y="591" width="1" height="19" fill="#26a69a"/>
<rect x="673" y="593" width="3" height="17" fill="#26a69a"/>
<rect x="678" y="586" width="1" height="41" fill="#ef5350"/>
<rect x="677" y="593" width="3" height="13" fill="#ef5350"/>
<rect x="683" y="606" width="1" height="28" fill="#ef5350"/>
<rect x="682" y="606" width="3" height="20" fill="#ef5350"/>
<rect x="687" y="607" width="1" height="21" fill="#26a69a"/>
<rect x="686" y="612" width="3" height="15" fill="#26a69a"/>
<rect x="692" y="611" width="1" height="19" fill="#ef5350"/>
<rect x="691" y="612" width="3" height="18" fill="#ef5350"/>
<rect x="696" y="616" width="1" height="47" fill="#ef5350"/>
<rect x="695" y="629" width="3" height="7" fill="#ef5350"/>
<rect x="701" y="630" width="1" height="60" fill="#ef5350"/>
<rect x="700" y="635" width="3" height="25" fill="#ef5350"/>
<rect x="705" y="641" width="1" height="46" fill="#ef5350"/>
<rect x="704" y="659" width="3" height="6" fill="#ef5350"/>
<rect x="710" y="645" width="1" height="33" fill="#ef5350"/>
<rect x="709" y="664" width="3" height="9" fill="#ef5350"/>
<rect x="714" y="632" width="1" height="41" fill="#26a69a"/>
<rect x="713" y="639" width="3" height="34" fill="#26a69a"/>
<rect x="719" y="619" width="1" height="25" fill="#26a69a"/>
<rect x="718" y="632" width="3" height="8" fill="#26a69a"/>
<rect x="723" y="590" width="1" height="46" fill="#26a69a"/>
<rect x="722" y="593" width="3" height="40" fill="#26a69a"/>
<rect x="728" y="580" width="1" height="24" fill="#26a69a"/>
<rect x="727" y="592" width="3" height="1" fill="#26a69a"/>
<rect x="732" y="574" width="1" height="39" fill="#ef5350"/>
<rect x="731" y="592" width="3" height="15" fill="#ef5350"/>
<rect x="737" y="574" width="1" height="33" fill="#26a69a"/>
<rect x="736" y="578" width="3" height="29" fill="#26a69a"/>
<rect x="741" y="564" width="1" height="15" fill="#26a69a"/>
<rect x="740" y="570" width="3" height="9" fill="#26a69a"/>
<rect x="746" y="562" width="1" height="25" fill="#ef5350"/>
<rect x="745" y="570" width="3" height="5" fill="#ef5350"/>
<rect x="750" y="569" width="1" height="19" fill="#26a69a"/>
<rect x="749" y="569" width="3" height="6" fill="#26a69a"/>
<rect x="755" y="561" width="1" height="9" fill="#26a69a"/>
<rect x="754" y="564" width="3" height="6" fill="#26a69a"/>
<rect x="759" y="559" width="1" height="13" fill="#ef5350"/>
<rect x="758" y="564" width="3" height="5" fill="#ef5350"/>
<rect x="764" y="561" width="1" height="18" fill="#ef5350"/>
<rect x="763" y="568" width="3" height="11" fill="#ef5350"/>
<rect x="768" y="570" width="1" height="17" fill="#ef5350"/>
<rect x="767" y="578" width="3" height="8" fill="#ef5350"/>
<rect x="773" y="564" width="1" height="26" fill="#26a69a"/>
<rect x="772" y="564" width="3" height="22" fill="#26a69a"/>
<rect x="777" y="562" width="1" height="10" fill="#ef5350"/>
<rect x="776" y="564" width="3" height="4" fill="#ef5350"/>
<rect x="782" y="558" width="1" height="21" fill="#ef5350"/>
<rect x="781" y="567" width="3" height="12" fill="#ef5350"/>
<rect x="786" y="570" width="1" height="13" fill="#26a69a"/>
<rect x="785" y="577" width="3" height="2" fill="#26a69a"/>
<rect x="791" y="574" width="1" height="10" fill="#26a69a"/>
<rect x="790" y="574" width="3" height="4" fill="#26a69a"/>
<rect x="795" y="562" width="1" height="17" fill="#26a69a"/>
<rect x="794" y="566" width="3" height="9" fill="#26a69a"/>
<rect x="800" y="537" width="1" height="31" fill="#26a69a"/>
<rect x="799" y="561" width="3" height="5" fill="#26a69a"/>
<rect x="804" y="546" width="1" height="26" fill="#26a69a"/>
<rect x="803" y="550" width="3" height="12" fill="#26a69a"/>
<rect x="809" y="532" width="1" height="18" fill="#26a69a"/>
<rect x="808" y="535" width="3" height="15" fill="#26a69a"/>
<rect x="813" y="526" width="1" height="10" fill="#26a69a"/>
<rect x="812" y="535" width="3" height="1" fill="#26a69a"/>
<rect x="818" y="516" width="1" height="24" fill="#26a69a"/>
<rect x="817" y="517" width="3" height="18" fill="#26a69a"/>
<rect x="822" y="517" width="1" height="14" fill="#ef5350"/>
<rect x="821" y="517" width="3" height="2" fill="#ef5350"/>
<rect x="827" y="517" width="1" height="28" fill="#ef5350"/>
<rect x="826" y="518" width="3" height="27" fill="#ef5350"/>
<rect x="831" y="545" width="1" height="24" fill="#ef5350"/>
<rect x="830" y="545" width="3" height="15" fill="#ef5350"/>
<rect x="836" y="553" width="1" height="18" fill="#ef5350"/>
<rect x="835" y="560" width="3" height="11" fill="#ef5350"/>
<rect x="840" y="560" width="1" height="20" fill="#ef5350"/>
<rect x="839" y="570" width="3" height="3" fill="#ef5350"/>
<rect x="845" y="533" width="1" height="44" fill="#26a69a"/>
<rect x="844" y="534" width="3" height="39" fill="#26a69a"/>
<rect x="849" y="534" width="1" height="35" fill="#ef5350"/>
<rect x="848" y="534" width="3" height="30" fill="#ef5350"/>
<rect x="854" y="562" width="1" height="34" fill="#ef5350"/>
<rect x="853" y="564" width="3" height="25" fill="#ef5350"/>
<rect x="858" y="575" width="1" height="21" fill="#ef5350"/>
<rect x="857" y="589" width="3" height="4" fill="#ef5350"/>
<rect x="863" y="580" width="1" height="49" fill="#ef5350"/>
<rect x="862" y="592" width="3" height="31" fill="#ef5350"/>
<rect x="867" y="556" width="1" height="67" fill="#26a69a"/>
<rect x="866" y="566" width="3" height="57" fill="#26a69a"/>
<rect x="872" y="551" width="1" height="19" fill="#26a69a"/>
<rect x="871" y="563" width="3" height="4" fill="#26a69a"/>
<rect x="876" y="534" width="1" height="30" fill="#26a69a"/>
<rect x="875" y="554" width="3" height="10" fill="#26a69a"/>
<rect x="881" y="518" width="1" height="36" fill="#26a69a"/>
<rect x="880" y="527" width="3" height="27" fill="#26a69a"/>
<rect x="885" y="503" width="1" height="31" fill="#26a69a"/>
<rect x="884" y="524" width="3" height="4" fill="#26a69a"/>
<rect x="890" y="518" width="1" height="23" fill="#ef5350"/>
<rect x="889" y="524" width="3" height="9" fill="#ef5350"/>
<rect x="894" y="519" width="1" height="18" fill="#26a69a"/>
<rect x="893" y="520" width="3" height="13" fill="#26a69a"/>
<rect x="899" y="504" width="1" height="20" fill="#26a69a"/>
<rect x="898" y="506" width="3" height="14" fill="#26a69a"/>
<rect x="903" y="478" width="1" height="40" fill="#26a69a"/>
<rect x="902" y="488" width="3" height="19" fill="#26a69a"/>
<rect x="908" y="479" width="1" height="19" fill="#ef5350"/>
<rect x="907" y="488" width="3" height="4" fill="#ef5350"/>
<rect x="912" y="480" width="1" height="22" fill="#26a69a"/>
<rect x="911" y="483" width="3" height="9" fill="#26a69a"/>
<rect x="917" y="478" width="1" height="29" fill="#ef5350"/>
<rect x="916" y="483" width="3" height="7" fill="#ef5350"/>
<rect x="921" y="478" width="1" height="125" fill="#ef5350"/>
<rect x="920" y="489" width="3" height="69" fill="#ef5350"/>
</g>
<line x1="0" y1="557.5" x2="965" y2="557.5" stroke="#ef5350" stroke-width="1" stroke-dasharray="1 2" shape-rendering="crispEdges" opacity="0.75"/>
</g><g filter="url(#soft2)">
<rect x="0" y="0" width="1.3" height="1.3" fill="#2a2e39"/>
<circle cx="17.9" cy="9.8" r="5.5" fill="#fff"/><circle cx="17.9" cy="9.85" r="5" fill="#0f9698"/>
<path d="M15.6 8.6c1-1.6 3.6-1.6 4.6 0M19.3 8.4l1.2 1.3l-1.6.9" stroke="#fff" stroke-width="1" fill="none" opacity=".8"/>
<circle cx="12.6" cy="15" r="5.9" fill="#fff"/><circle cx="12.6" cy="15" r="5.2" fill="#f7931a"/>
<text x="12.6" y="17.2" font-size="6.2" fill="#fff" opacity=".85" text-anchor="middle">B</text>
<text x="26.50" y="17.30" font-size="12.8" fill="#50535e" textLength="40.75" lengthAdjust="spacingAndGlyphs">Bitcoin</text>
<path d="M73.4 18.4L77.9 7.9" stroke="#50535e" stroke-width="1.15" fill="none"/>
<text x="83.75" y="17.30" font-size="12.8" fill="#50535e" textLength="52.05" lengthAdjust="spacingAndGlyphs">TetherUS</text>
<rect x="139.8" y="12.3" width="1.7" height="1.7" fill="#50535e"/>
<text x="147.75" y="17.30" font-size="12.8" fill="#50535e" textLength="11.65" lengthAdjust="spacingAndGlyphs">15</text>
<rect x="164.4" y="12.3" width="1.7" height="1.7" fill="#50535e"/>
<text x="170.60" y="17.30" font-size="12.8" fill="#50535e" textLength="50.40" lengthAdjust="spacingAndGlyphs">BINANCE</text>
<path d="M231.6 7.6H242L238 12.5L242 17.5H231.6Z" fill="#f05352"/>
<circle cx="265" cy="12.4" r="7.5" fill="#d6eeea"/><circle cx="265.1" cy="12.4" r="3.3" fill="#0a9b86"/>
<text x="286.40" y="17.00" font-size="10.9" fill="#5d606b" textLength="7.10" lengthAdjust="spacingAndGlyphs">O</text>
<text x="295.20" y="17.00" font-size="10.9" fill="#ef5350" textLength="46.90" lengthAdjust="spacingAndGlyphs">61,272.99</text>
<text x="348.00" y="17.00" font-size="10.9" fill="#5d606b" textLength="5.80" lengthAdjust="spacingAndGlyphs">H</text>
<text x="355.20" y="17.00" font-size="10.9" fill="#ef5350" textLength="47.40" lengthAdjust="spacingAndGlyphs">61,319.99</text>
<text x="408.60" y="17.00" font-size="10.9" fill="#5d606b" textLength="4.70" lengthAdjust="spacingAndGlyphs">L</text>
<text x="414.60" y="17.00" font-size="10.9" fill="#ef5350" textLength="47.70" lengthAdjust="spacingAndGlyphs">60,752.04</text>
<text x="468.30" y="17.00" font-size="10.9" fill="#5d606b" textLength="5.20" lengthAdjust="spacingAndGlyphs">C</text>
<text x="474.60" y="17.00" font-size="10.9" fill="#ef5350" textLength="47.90" lengthAdjust="spacingAndGlyphs">60,963.06</text>
<text x="528.50" y="17.00" font-size="10.9" fill="#ef5350" textLength="36.90" lengthAdjust="spacingAndGlyphs">−309.93</text>
<text x="569.70" y="17.00" font-size="10.9" fill="#ef5350" textLength="40.40" lengthAdjust="spacingAndGlyphs">(−0.51%)</text>
<rect x="7.2" y="26.6" width="66" height="27" rx="4" fill="#fff" stroke="#f2686c" stroke-width="1.2"/>
<text x="16.70" y="38.50" font-size="10.6" fill="#f0484f" textLength="47.50" lengthAdjust="spacingAndGlyphs">60,954.00</text>
<text x="30.20" y="49.90" font-size="8.7" fill="#f0484f" textLength="19.40" lengthAdjust="spacingAndGlyphs">SELL</text>
<text x="80.50" y="43.70" font-size="8.5" fill="#5d606b" textLength="15.30" lengthAdjust="spacingAndGlyphs">0.01</text>
<rect x="103.3" y="26.6" width="66" height="27" rx="4" fill="#fff" stroke="#5b86f7" stroke-width="1.2"/>
<text x="113.00" y="38.50" font-size="10.6" fill="#3b67f0" textLength="47.00" lengthAdjust="spacingAndGlyphs">60,954.01</text>
<text x="128.30" y="49.90" font-size="8.7" fill="#3b67f0" textLength="16.70" lengthAdjust="spacingAndGlyphs">BUY</text>
<text x="7.80" y="71.90" font-size="10.6" fill="#5d606b" textLength="14.10" lengthAdjust="spacingAndGlyphs">Vol</text>
<circle cx="27.6" cy="68.4" r=".9" fill="#5d606b"/>
<text x="33.10" y="71.90" font-size="10.6" fill="#5d606b" textLength="18.15" lengthAdjust="spacingAndGlyphs">BTC</text>
<text x="58.75" y="71.90" font-size="10.6" fill="#ef5350" textLength="16.00" lengthAdjust="spacingAndGlyphs">811</text>
<rect x="8" y="79.9" width="23.3" height="16.2" rx="3" fill="#fff" stroke="#e0e3eb" stroke-width="1"/>
<path d="M16.2 90L19.7 86.7L23.2 90" stroke="#2a2e39" stroke-width="1.6" fill="none"/>
<rect x="969.5" y="3" width="52" height="20.2" rx="3" fill="#fff" stroke="#e9ecf3" stroke-width="1"/>
<text x="972.30" y="16.75" font-size="10.8" fill="#40434e" textLength="23.50" lengthAdjust="spacingAndGlyphs">USDT</text>
<path d="M1013.6 12.4L1015.8 14.5L1018 12.4" stroke="#2a2e39" stroke-width="1.2" fill="none"/>
<text x="973.00" y="69.75" font-size="10.5" fill="#5d606b" textLength="44.20" lengthAdjust="spacingAndGlyphs">63,200.00</text>
<text x="973.00" y="113.59" font-size="10.5" fill="#5d606b" textLength="44.20" lengthAdjust="spacingAndGlyphs">63,000.00</text>
<text x="973.00" y="157.42" font-size="10.5" fill="#5d606b" textLength="44.20" lengthAdjust="spacingAndGlyphs">62,800.00</text>
<text x="973.00" y="201.25" font-size="10.5" fill="#5d606b" textLength="44.20" lengthAdjust="spacingAndGlyphs">62,600.00</text>
<text x="973.00" y="245.09" font-size="10.5" fill="#5d606b" textLength="44.20" lengthAdjust="spacingAndGlyphs">62,400.00</text>
<text x="973.00" y="288.93" font-size="10.5" fill="#5d606b" textLength="44.20" lengthAdjust="spacingAndGlyphs">62,200.00</text>
<text x="973.00" y="332.76" font-size="10.5" fill="#5d606b" textLength="44.20" lengthAdjust="spacingAndGlyphs">62,000.00</text>
<text x="973.00" y="376.60" font-size="10.5" fill="#5d606b" textLength="44.20" lengthAdjust="spacingAndGlyphs">61,800.00</text>
<text x="973.00" y="420.43" font-size="10.5" fill="#5d606b" textLength="44.20" lengthAdjust="spacingAndGlyphs">61,600.00</text>
<text x="973.00" y="464.26" font-size="10.5" fill="#5d606b" textLength="44.20" lengthAdjust="spacingAndGlyphs">61,400.00</text>
<text x="973.00" y="508.10" font-size="10.5" fill="#5d606b" textLength="44.20" lengthAdjust="spacingAndGlyphs">61,200.00</text>
<text x="973.00" y="551.93" font-size="10.5" fill="#5d606b" textLength="44.20" lengthAdjust="spacingAndGlyphs">61,000.00</text>
<text x="973.00" y="595.77" font-size="10.5" fill="#5d606b" textLength="44.20" lengthAdjust="spacingAndGlyphs">60,800.00</text>
<text x="973.00" y="639.61" font-size="10.5" fill="#5d606b" textLength="44.20" lengthAdjust="spacingAndGlyphs">60,600.00</text>
<text x="973.00" y="683.44" font-size="10.5" fill="#5d606b" textLength="44.20" lengthAdjust="spacingAndGlyphs">60,400.00</text>
<text x="973.00" y="727.27" font-size="10.5" fill="#5d606b" textLength="44.20" lengthAdjust="spacingAndGlyphs">60,200.00</text>
<text x="973.00" y="771.11" font-size="10.5" fill="#5d606b" textLength="44.20" lengthAdjust="spacingAndGlyphs">60,000.00</text>
<text x="973.00" y="814.95" font-size="10.5" fill="#5d606b" textLength="44.20" lengthAdjust="spacingAndGlyphs">59,800.00</text>
<text x="973.00" y="858.78" font-size="10.5" fill="#5d606b" textLength="44.20" lengthAdjust="spacingAndGlyphs">59,600.00</text>
<text x="973.00" y="902.62" font-size="10.5" fill="#5d606b" textLength="44.20" lengthAdjust="spacingAndGlyphs">59,400.00</text>
<path d="M966 550.5h53.5a2 2 0 0 1 2 2v21.3a2 2 0 0 1-2 2H966z" fill="#ef5350"/>
<text x="973.00" y="560.60" font-size="10.7" fill="#fff" textLength="44.20" lengthAdjust="spacingAndGlyphs" stroke="#fff" stroke-width="0.35">60,963.06</text>
<text x="973.00" y="571.50" font-size="10.7" fill="#fff" textLength="24.00" lengthAdjust="spacingAndGlyphs" stroke="#fff" stroke-width="0.35">00:07</text>
<text x="91.40" y="923.80" font-size="10.6" fill="#5d606b" textLength="24.20" lengthAdjust="spacingAndGlyphs">18:00</text>
<text x="307.40" y="923.80" font-size="10.6" fill="#5d606b" textLength="24.20" lengthAdjust="spacingAndGlyphs">06:00</text>
<text x="415.40" y="923.80" font-size="10.6" fill="#5d606b" textLength="24.20" lengthAdjust="spacingAndGlyphs">12:00</text>
<text x="523.40" y="923.80" font-size="10.6" fill="#5d606b" textLength="24.20" lengthAdjust="spacingAndGlyphs">18:00</text>
<text x="738.40" y="923.80" font-size="10.6" fill="#5d606b" textLength="24.20" lengthAdjust="spacingAndGlyphs">06:00</text>
<text x="846.40" y="923.80" font-size="10.6" fill="#5d606b" textLength="24.20" lengthAdjust="spacingAndGlyphs">12:00</text>
<text x="208.10" y="923.80" font-size="10.9" fill="#50535e" textLength="5.80" lengthAdjust="spacingAndGlyphs" font-weight="bold">9</text>
<text x="637.50" y="923.80" font-size="10.9" fill="#50535e" textLength="10.80" lengthAdjust="spacingAndGlyphs" font-weight="bold">10</text>
<text x="955.00" y="923.80" font-size="10.6" fill="#5d606b" textLength="9.30" lengthAdjust="spacingAndGlyphs">18</text>
<path d="M990.2 920.5L993 915.7H998.6L1001.4 920.5L998.6 925.3H993Z" stroke="#2a2e39" stroke-width="1.2" fill="none" stroke-linejoin="round"/><circle cx="995.8" cy="920.5" r="1.6" stroke="#2a2e39" stroke-width="1.1" fill="none"/>
<circle cx="921.7" cy="897.6" r="8" fill="#fff" stroke="#a034c4" stroke-width="1.5"/>
<path d="M923.6 893L918.4 898.4h3.1l-1.5 4.2l5.3-5.5h-3.2z" fill="#a034c4"/>
<circle cx="927.4" cy="892" r="3.1" fill="#fff"/><circle cx="927.4" cy="892" r="2.1" fill="#f23645"/>
<g fill="#131722" stroke="#fff" stroke-width="2.6" stroke-linejoin="round" paint-order="stroke">
<path d="M10.25 884.2H20V896.7H15.2V888.9H10.25Z"/><circle cx="24.15" cy="886.5" r="2.1"/><path d="M28.2 884.2H34.7L30.6 896.7H24.5Z"/>
<text x="41.30" y="896.30" font-size="16.4" fill="#131722" textLength="100.70" lengthAdjust="spacingAndGlyphs" font-weight="bold">TradingView</text>
</g>
</g>
</svg>
</body></html>
